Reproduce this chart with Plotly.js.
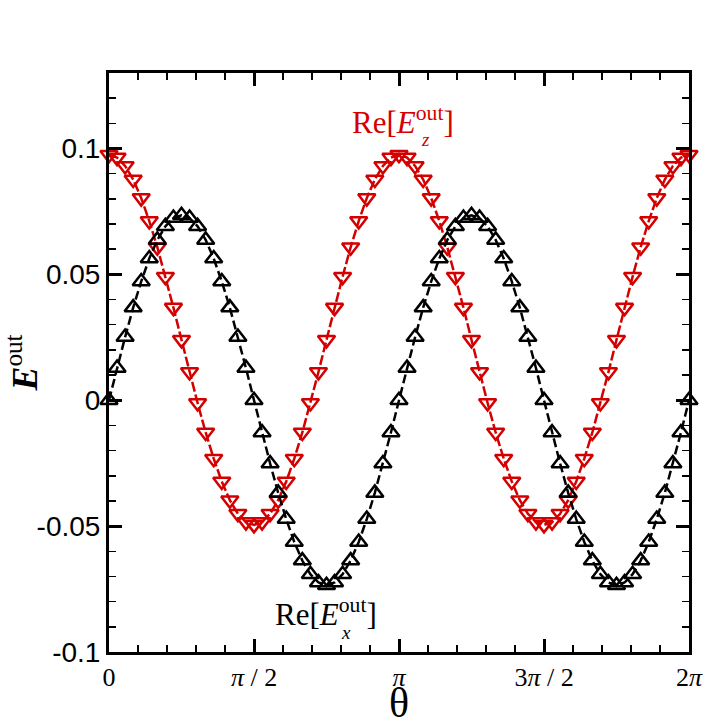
<!DOCTYPE html>
<html>
<head>
<meta charset="utf-8">
<script src="https://cdn.plot.ly/plotly-3.0.1.min.js"></script>
<style>
  html, body { margin: 0; padding: 0; background: #fff; }
  #myDiv { width: 726px; height: 726px; }
</style>
</head>
<body>
<div id="myDiv"></div>
<script>
  // angle in degrees, 5 degree steps
  let thetaDeg = [0, 5, 10, 15, 20, 25, 30, 35, 40, 45, 50, 55, 60, 65, 70, 75, 80, 85, 90,
    95, 100, 105, 110, 115, 120, 125, 130, 135, 140, 145, 150, 155, 160, 165, 170, 175, 180,
    185, 190, 195, 200, 205, 210, 215, 220, 225, 230, 235, 240, 245, 250, 255, 260, 265, 270,
    275, 280, 285, 290, 295, 300, 305, 310, 315, 320, 325, 330, 335, 340, 345, 350, 355, 360];

  // Re[Ex_out] (black, up triangles)
  let reEx = [0, 0.0128, 0.0251, 0.0368, 0.0472, 0.0563, 0.0637, 0.0691, 0.0724, 0.0735,
    0.0724, 0.0691, 0.0637, 0.0563, 0.0472, 0.0368, 0.0251, 0.0128, 0,
    -0.0128, -0.0251, -0.0368, -0.0472, -0.0563, -0.0637, -0.0691, -0.0724, -0.0735,
    -0.0724, -0.0691, -0.0637, -0.0563, -0.0472, -0.0368, -0.0251, -0.0128, 0,
    0.0128, 0.0251, 0.0368, 0.0472, 0.0563, 0.0637, 0.0691, 0.0724, 0.0735,
    0.0724, 0.0691, 0.0637, 0.0563, 0.0472, 0.0368, 0.0251, 0.0128, 0,
    -0.0128, -0.0251, -0.0368, -0.0472, -0.0563, -0.0637, -0.0691, -0.0724, -0.0735,
    -0.0724, -0.0691, -0.0637, -0.0563, -0.0472, -0.0368, -0.0251, -0.0128, 0];

  // Re[Ez_out] (red, down triangles)
  let reEz = [0.0975, 0.0964, 0.0931, 0.0877, 0.0803, 0.0712, 0.0608, 0.0491, 0.0368, 0.024,
    0.0112, -0.0011, -0.0128, -0.0232, -0.0323, -0.0397, -0.0451, -0.0484, -0.0495,
    -0.0484, -0.0451, -0.0397, -0.0323, -0.0232, -0.0128, -0.0011, 0.0112, 0.024,
    0.0368, 0.0491, 0.0608, 0.0712, 0.0803, 0.0877, 0.0931, 0.0964, 0.0975,
    0.0964, 0.0931, 0.0877, 0.0803, 0.0712, 0.0608, 0.0491, 0.0368, 0.024,
    0.0112, -0.0011, -0.0128, -0.0232, -0.0323, -0.0397, -0.0451, -0.0484, -0.0495,
    -0.0484, -0.0451, -0.0397, -0.0323, -0.0232, -0.0128, -0.0011, 0.0112, 0.024,
    0.0368, 0.0491, 0.0608, 0.0712, 0.0803, 0.0877, 0.0931, 0.0964, 0.0975];

  let xTickVals = [0, 90, 180, 270, 360];
  let xTickText = ['0', '<i>π</i> / 2', '<i>π</i>', '3<i>π</i> / 2', '2<i>π</i>'];
  let yTickVals = [-0.1, -0.05, 0, 0.05, 0.1];
  let yTickText = ['-0.1', '-0.05', '0', '0.05', '0.1'];

  let red = '#d40000';
  let serif = 'Liberation Serif, Times New Roman, serif';
  let sans = 'Liberation Sans, Arial, sans-serif';

  var traceEz = {
    x: thetaDeg,
    y: reEz,
    type: 'scatter',
    mode: 'lines+markers',
    cliponaxis: false,
    line: {color: red, width: 2.5, dash: '10px,3px'},
    marker: {symbol: 'triangle-down-open', size: 15, color: red, line: {width: 2.5, color: red}}
  };

  var traceEx = {
    x: thetaDeg,
    y: reEx,
    type: 'scatter',
    mode: 'lines+markers',
    cliponaxis: false,
    line: {color: '#000', width: 2.5, dash: '9px,4px'},
    marker: {symbol: 'triangle-up-open', size: 15, color: '#000', line: {width: 2.5, color: '#000'}}
  };

  var layout = {
    width: 726,
    height: 726,
    margin: {l: 109, r: 37, t: 73, b: 74},
    paper_bgcolor: '#fff',
    plot_bgcolor: '#fff',
    showlegend: false,
    xaxis: {
      range: [0, 360],
      showgrid: false,
      zeroline: false,
      showline: true,
      linecolor: '#000',
      linewidth: 3,
      mirror: 'ticks',
      ticks: 'inside',
      ticklen: 13,
      tickwidth: 3,
      tickcolor: '#000',
      tickmode: 'array',
      tickvals: xTickVals,
      ticktext: xTickText,
      tickfont: {family: serif, size: 26, color: '#000'},
      minor: {ticks: 'inside', ticklen: 7, tickwidth: 1.5, tickcolor: '#000', tickmode: 'linear', tick0: 0, dtick: 18},
      title: {text: 'θ', font: {family: serif, size: 42, color: '#000'}, standoff: 6}
    },
    yaxis: {
      range: [-0.1, 0.13],
      showgrid: false,
      zeroline: false,
      showline: true,
      linecolor: '#000',
      linewidth: 3,
      mirror: 'ticks',
      ticks: 'inside',
      ticklen: 13,
      tickwidth: 3,
      tickcolor: '#000',
      tickmode: 'array',
      tickvals: yTickVals,
      ticktext: yTickText,
      tickfont: {family: sans, size: 28, color: '#000'},
      minor: {ticks: 'inside', ticklen: 7, tickwidth: 1.5, tickcolor: '#000', tickmode: 'linear', tick0: 0, dtick: 0.01},
      title: {text: '<b><i>E</i></b><sup>out</sup>', font: {family: serif, size: 36, color: '#000'}, standoff: 14}
    },
    annotations: [
      {x: 0.4155, y: 0.111, xref: 'paper', yref: 'y', xanchor: 'left', showarrow: false,
       text: 'Re[<i>E</i><sup>out</sup>]', font: {family: serif, size: 31, color: red}},
      {x: 0.5465, y: 0.1035, xref: 'paper', yref: 'y', showarrow: false,
       text: '<i>z</i>', font: {family: serif, size: 19, color: red}},
      {x: 0.2828, y: -0.0845, xref: 'paper', yref: 'y', xanchor: 'left', showarrow: false,
       text: 'Re[<i>E</i><sup>out</sup>]', font: {family: serif, size: 31, color: '#000'}},
      {x: 0.4078, y: -0.0921, xref: 'paper', yref: 'y', showarrow: false,
       text: '<i>x</i>', font: {family: serif, size: 19, color: '#000'}}
    ]
  };

  Plotly.newPlot('myDiv', [traceEz, traceEx], layout, {displayModeBar: false, staticPlot: true});
</script>
</body>
</html>
